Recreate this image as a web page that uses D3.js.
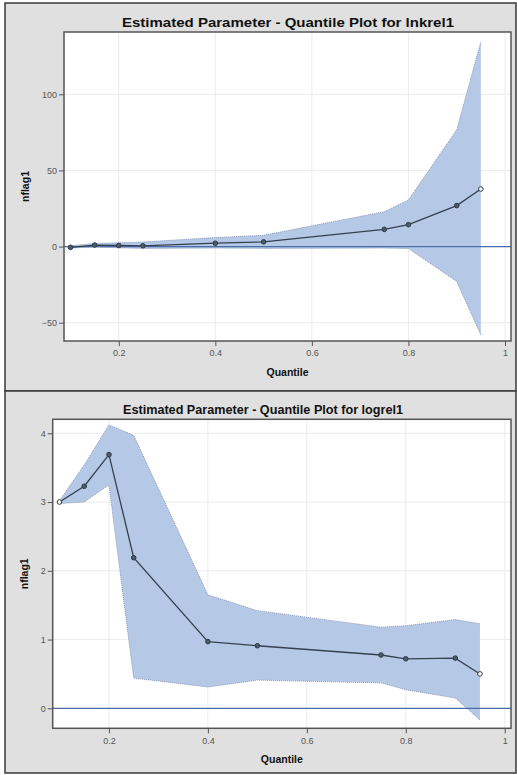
<!DOCTYPE html>
<html>
<head>
<meta charset="utf-8">
<script src="https://cdn.jsdelivr.net/npm/d3@7"></script>
<style>
  body { margin: 0; background: #fff; }
  svg { display: block; font-family: "Liberation Sans", Arial, sans-serif; }
</style>
</head>
<body>
<div id="chart"></div>
<script>
// quantile levels shared by both panels
let quantiles = [0.1, 0.15, 0.2, 0.25, 0.4, 0.5, 0.75, 0.8, 0.9, 0.95];
let xTicks = [0.2, 0.4, 0.6, 0.8, 1];

// lnkrel1
let lnkrelEst = [-0.5, 1.0, 0.7, 0.5, 2.2, 3.1, 11.3, 14.4, 26.9, 37.8];
let lnkrelUpper = [0.5, 2.0, 2.5, 3.0, 5.9, 7.4, 22.9, 30.6, 76.7, 134.5];
let lnkrelLower = [-1.0, -0.3, -0.8, -1.2, -1.0, -1.2, -1.0, -1.3, -22.9, -58];
let lnkrelTicks = [-50, 0, 50, 100];

// logrel1
let logrelEst = [3.0, 3.23, 3.69, 2.19, 0.97, 0.91, 0.775, 0.72, 0.73, 0.5];
let logrelUpper = [3.02, 3.54, 4.12, 3.97, 1.65, 1.42, 1.18, 1.2, 1.29, 1.23];
let logrelLower = [2.98, 3.0, 3.25, 0.44, 0.31, 0.41, 0.37, 0.27, 0.15, -0.17];
let logrelTicks = [0, 1, 2, 3, 4];

let svg = d3.select("#chart").append("svg")
  .attr("width", 517)
  .attr("height", 775);

svg.append("rect")
  .attr("width", 517).attr("height", 775)
  .attr("fill", "#fff");

function drawPanel(cfg) {
  let g = svg.append("g");

  // outer gray frame
  g.append("rect")
    .attr("x", cfg.frame[0]).attr("y", cfg.frame[1])
    .attr("width", cfg.frame[2]).attr("height", cfg.frame[3])
    .attr("fill", "#e0e0e0")
    .attr("stroke", "#3a3a3a")
    .attr("stroke-width", 1.5);

  let x = d3.scaleLinear().domain([0.1, 1]).range(cfg.xRange);
  let y = d3.scaleLinear().domain(cfg.yDomain).range(cfg.yRange);
  let [left, top, right, bottom] = cfg.plot;

  g.append("rect")
    .attr("x", left).attr("y", top)
    .attr("width", right - left).attr("height", bottom - top)
    .attr("fill", "#fff");

  // grid
  g.append("g").selectAll("line").data(xTicks).join("line")
    .attr("x1", d => x(d)).attr("x2", d => x(d))
    .attr("y1", top).attr("y2", bottom)
    .attr("stroke", "#ececec");
  g.append("g").selectAll("line").data(cfg.yTicks).join("line")
    .attr("x1", left).attr("x2", right)
    .attr("y1", d => y(d)).attr("y2", d => y(d))
    .attr("stroke", "#ececec");

  let rows = quantiles.map((q, i) => ({
    q: q, est: cfg.est[i], lo: cfg.lower[i], hi: cfg.upper[i]
  }));

  // confidence band
  g.append("path")
    .datum(rows)
    .attr("d", d3.area().x(d => x(d.q)).y0(d => y(d.lo)).y1(d => y(d.hi)))
    .attr("fill", "#b5c9e6");
  g.append("path")
    .datum(rows)
    .attr("d", d3.line().x(d => x(d.q)).y(d => y(d.hi)))
    .attr("fill", "none").attr("stroke", "#8a98b8")
    .attr("stroke-width", 1).attr("stroke-dasharray", "1,1");
  g.append("path")
    .datum(rows)
    .attr("d", d3.line().x(d => x(d.q)).y(d => y(d.lo)))
    .attr("fill", "none").attr("stroke", "#8a98b8")
    .attr("stroke-width", 1).attr("stroke-dasharray", "1,1");

  // zero reference
  g.append("line")
    .attr("x1", left).attr("x2", right)
    .attr("y1", y(0)).attr("y2", y(0))
    .attr("stroke", "#4a6ea8").attr("stroke-width", 1.3);

  // estimate line + markers
  g.append("path")
    .datum(rows)
    .attr("d", d3.line().x(d => x(d.q)).y(d => y(d.est)))
    .attr("fill", "none").attr("stroke", "#35404f").attr("stroke-width", 1.3);
  g.append("g").selectAll("circle").data(rows).join("circle")
    .attr("cx", d => x(d.q)).attr("cy", d => y(d.est))
    .attr("r", 2.3)
    .attr("fill", (d, i) => cfg.openMarks.includes(i) ? "#fff" : "#4b5a6c")
    .attr("stroke", "#2e3a48").attr("stroke-width", 1);

  // plot frame
  g.append("rect")
    .attr("x", left).attr("y", top)
    .attr("width", right - left).attr("height", bottom - top)
    .attr("fill", "none").attr("stroke", "#555").attr("stroke-width", 1.5);

  // axes
  let xAxis = g.append("g")
    .attr("transform", `translate(0,${bottom})`)
    .call(d3.axisBottom(x).tickValues(xTicks).tickFormat(d3.format("~g"))
      .tickSize(5).tickPadding(4));
  let yAxis = g.append("g")
    .attr("transform", `translate(${left},0)`)
    .call(d3.axisLeft(y).tickValues(cfg.yTicks).tickFormat(d3.format("~g"))
      .tickSize(5).tickPadding(2));
  [xAxis, yAxis].forEach(a => {
    a.select(".domain").remove();
    a.selectAll(".tick line").attr("stroke", "#555");
    a.selectAll(".tick text").attr("fill", "#555")
      .attr("font-size", 9).attr("font-family", "Liberation Sans, Arial, sans-serif");
  });

  // titles
  g.append("text")
    .attr("x", cfg.titleX).attr("y", cfg.titleY)
    .attr("text-anchor", "middle")
    .attr("font-size", 12).attr("font-weight", "bold").attr("fill", "#111")
    .attr("textLength", cfg.titleLen).attr("lengthAdjust", "spacingAndGlyphs")
    .text(cfg.title);
  g.append("text")
    .attr("x", (left + right) / 2).attr("y", cfg.xLabelY)
    .attr("text-anchor", "middle")
    .attr("font-size", 10.5).attr("font-weight", "bold").attr("fill", "#111")
    .text("Quantile");
  g.append("text")
    .attr("transform", `translate(${cfg.yLabelX},${(top + bottom) / 2}) rotate(-90)`)
    .attr("text-anchor", "middle")
    .attr("font-size", 10.5).attr("font-weight", "bold").attr("fill", "#111")
    .text("nflag1");
}

drawPanel({
  frame: [5, 3, 511, 388],
  plot: [64, 32, 511, 341],
  xRange: [70.5, 505],
  yDomain: [-50, 100],
  yRange: [322.7, 94.3],
  yTicks: lnkrelTicks,
  est: lnkrelEst, lower: lnkrelLower, upper: lnkrelUpper,
  openMarks: [9],
  title: "Estimated Parameter - Quantile Plot for  lnkrel1",
  titleX: 288, titleY: 27, titleLen: 332,
  xLabelY: 376, yLabelX: 29
});

drawPanel({
  frame: [5, 391, 511, 382],
  plot: [52.7, 419.3, 511, 728.3],
  xRange: [59.5, 504.7],
  yDomain: [0, 4],
  yRange: [708.3, 433.3],
  yTicks: logrelTicks,
  est: logrelEst, lower: logrelLower, upper: logrelUpper,
  openMarks: [0, 9],
  title: "Estimated Parameter - Quantile Plot for  logrel1",
  titleX: 263, titleY: 414, titleLen: 280,
  xLabelY: 763, yLabelX: 28
});
</script>
</body>
</html>
